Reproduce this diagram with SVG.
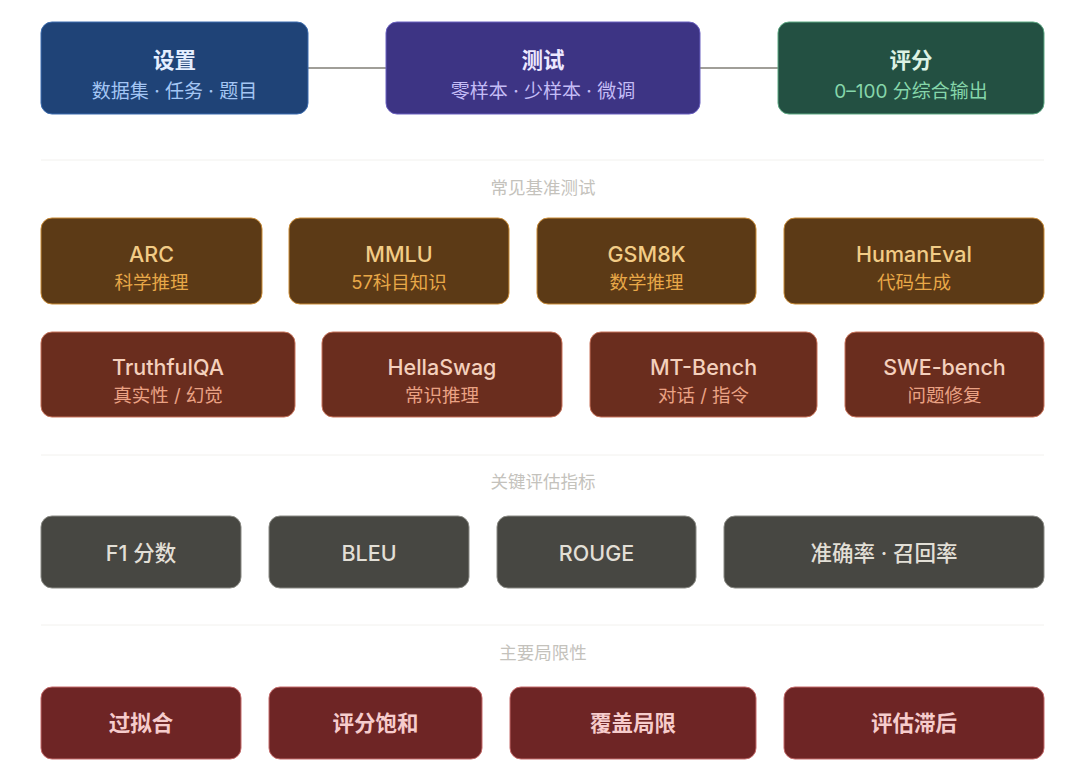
<svg xmlns="http://www.w3.org/2000/svg" width="1080" height="780" viewBox="0 0 1080 780">
<style>
text{font-family:"Inter","Noto Sans CJK SC",sans-serif;text-anchor:middle}
.t{font-size:21.5px;font-weight:700}
.s{font-size:19px}
.s2{font-size:18.5px}
.h{font-size:21.5px;font-weight:500}
.sec{font-size:17.5px;fill:#c4c2bc}
.sep{stroke:#f2f1ee;stroke-width:1}
.b1{fill:#1f4377;stroke:#3d6db0}
.b2{fill:#3d3484;stroke:#6a60c0}
.b3{fill:#235042;stroke:#5ca882}
.bb{fill:#5c3a16;stroke:#c98b36}
.br{fill:#6a2d1e;stroke:#c8735a}
.bg{fill:#474742;stroke:#8a8a84}
.bl{fill:#6e2525;stroke:#c46a6a}
</style>
<rect width="1080" height="780" fill="#ffffff"/>
<g id="connectors">
<line x1="308" y1="68" x2="386" y2="68" stroke="#a09e98" stroke-width="2"/>
<line x1="700" y1="68" x2="778" y2="68" stroke="#a09e98" stroke-width="2"/>
</g>
<g id="setup"><rect class="b1" x="41" y="22" width="267" height="92" rx="11"/><text class="t" x="174.5" y="68" fill="#e4eeff">设置</text><text class="s" x="174.5" y="98" fill="#a4c6f4">数据集 · 任务 · 题目</text></g>
<g id="test"><rect class="b2" x="386" y="22" width="314" height="92" rx="11"/><text class="t" x="543" y="68" fill="#ece8ff">测试</text><text class="s" x="543" y="98" fill="#c4bcf6">零样本 · 少样本 · 微调</text></g>
<g id="score"><rect class="b3" x="778" y="22" width="266" height="92" rx="11"/><text class="t" x="911" y="68" fill="#dcf2e4">评分</text><text class="s" x="911" y="98" fill="#86d6aa">0–100 分综合输出</text></g>
<line class="sep" x1="41" y1="160" x2="1044" y2="160"/>
<text class="sec" x="543" y="194">常见基准测试</text>
<g id="arc"><rect class="bb" x="41" y="218" width="221" height="86" rx="11"/><text class="h" x="151.5" y="262" fill="#f2cc86">ARC</text><text class="s2" x="151.5" y="289" fill="#e8a848">科学推理</text></g>
<g id="mmlu"><rect class="bb" x="289" y="218" width="220" height="86" rx="11"/><text class="h" x="399" y="262" fill="#f2cc86">MMLU</text><text class="s2" x="399" y="289" fill="#e8a848">57科目知识</text></g>
<g id="gsm8k"><rect class="bb" x="537" y="218" width="219" height="86" rx="11"/><text class="h" x="646.5" y="262" fill="#f2cc86">GSM8K</text><text class="s2" x="646.5" y="289" fill="#e8a848">数学推理</text></g>
<g id="humaneval"><rect class="bb" x="784" y="218" width="260" height="86" rx="11"/><text class="h" x="914" y="262" fill="#f2cc86">HumanEval</text><text class="s2" x="914" y="289" fill="#e8a848">代码生成</text></g>
<g id="truthfulqa"><rect class="br" x="41" y="332" width="254" height="85" rx="11"/><text class="h" x="168" y="375" fill="#f4d0bc">TruthfulQA</text><text class="s2" x="168" y="402" fill="#eaa284">真实性 / 幻觉</text></g>
<g id="hellaswag"><rect class="br" x="322" y="332" width="240" height="85" rx="11"/><text class="h" x="442" y="375" fill="#f4d0bc">HellaSwag</text><text class="s2" x="442" y="402" fill="#eaa284">常识推理</text></g>
<g id="mtbench"><rect class="br" x="590" y="332" width="227" height="85" rx="11"/><text class="h" x="703.5" y="375" fill="#f4d0bc">MT-Bench</text><text class="s2" x="703.5" y="402" fill="#eaa284">对话 / 指令</text></g>
<g id="swebench"><rect class="br" x="845" y="332" width="199" height="85" rx="11"/><text class="h" x="944.5" y="375" fill="#f4d0bc">SWE-bench</text><text class="s2" x="944.5" y="402" fill="#eaa284">问题修复</text></g>
<line class="sep" x1="41" y1="455" x2="1044" y2="455"/>
<text class="sec" x="543" y="488">关键评估指标</text>
<g id="f1"><rect class="bg" x="41" y="516" width="200" height="72" rx="11"/><text class="h" x="141" y="561" fill="#e2dfd6">F1 分数</text></g>
<g id="bleu"><rect class="bg" x="269" y="516" width="200" height="72" rx="11"/><text class="h" x="369" y="561" fill="#e2dfd6">BLEU</text></g>
<g id="rouge"><rect class="bg" x="497" y="516" width="199" height="72" rx="11"/><text class="h" x="596.5" y="561" fill="#e2dfd6">ROUGE</text></g>
<g id="precision"><rect class="bg" x="724" y="516" width="320" height="72" rx="11"/><text class="h" x="884" y="561" fill="#e2dfd6">准确率 · 召回率</text></g>
<line class="sep" x1="41" y1="625" x2="1044" y2="625"/>
<text class="sec" x="543" y="659">主要局限性</text>
<g id="overfit"><rect class="bl" x="41" y="687" width="200" height="72" rx="11"/><text class="t" x="141" y="731" fill="#f6cccc">过拟合</text></g>
<g id="saturation"><rect class="bl" x="269" y="687" width="213" height="72" rx="11"/><text class="t" x="375.5" y="731" fill="#f6cccc">评分饱和</text></g>
<g id="coverage"><rect class="bl" x="510" y="687" width="246" height="72" rx="11"/><text class="t" x="633" y="731" fill="#f6cccc">覆盖局限</text></g>
<g id="lag"><rect class="bl" x="784" y="687" width="260" height="72" rx="11"/><text class="t" x="914" y="731" fill="#f6cccc">评估滞后</text></g>
</svg>
